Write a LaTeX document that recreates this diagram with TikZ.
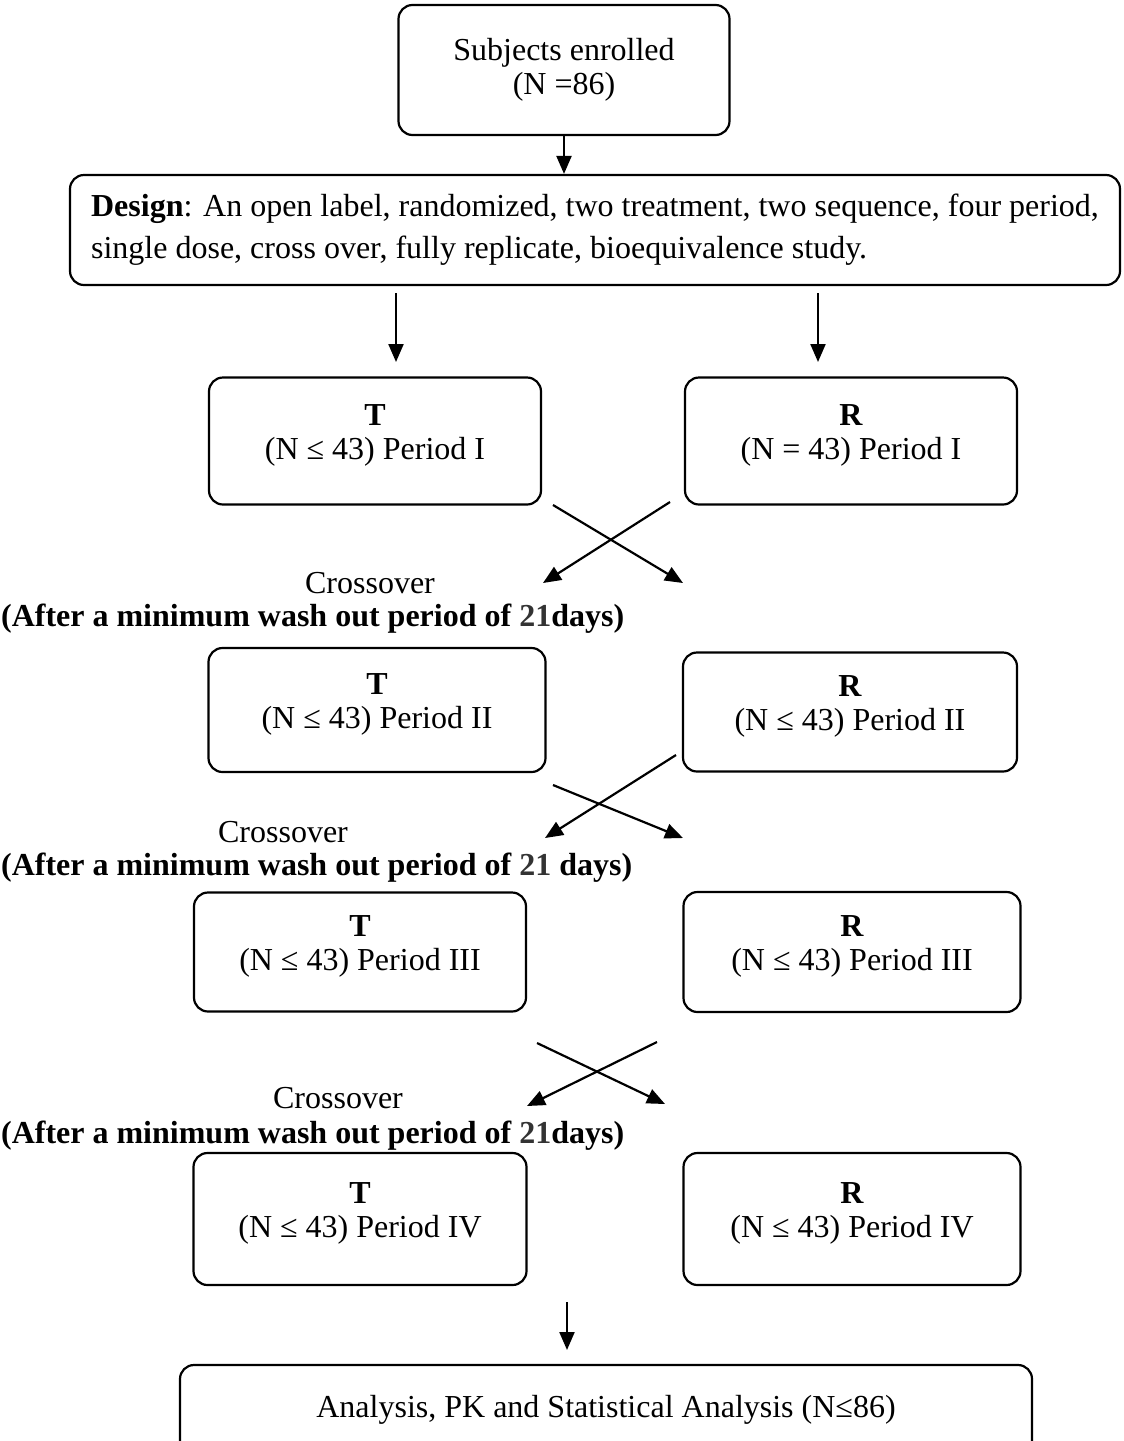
\documentclass[tikz,border=0pt]{standalone}
\usepackage{fontspec}
\setmainfont{Liberation Serif}
\usepackage{tikz}
\usetikzlibrary{arrows,arrows.meta}
\definecolor{cgray}{rgb}{0.2, 0.2, 0.2}

\begin{document}
\begin{tikzpicture}[x=1pt,y=-1pt,-,>={Triangle[length=18pt,width=15pt]},line width=2.2pt,
  main node/.style={draw,rounded corners=14pt,align=center,inner sep=0pt,
    text depth=17pt,font=\fontsize{32}{34}\selectfont},
  text node/.style={inner sep=0pt,font=\fontsize{32}{37}\selectfont}]
  \useasboundingbox (0,0) rectangle (1124,1441);

  \node[main node,minimum width=331pt,minimum height=130pt,text depth=8pt] (enrol) at (564,70)
    {Subjects enrolled\\(N =86)};
  \node[main node,minimum width=1050pt,minimum height=110pt,align=left,text depth=8pt] (design) at (595,230)
    {\textbf{Design}: An open label, randomized, two treatment, two sequence, four period,\\[8pt]
     single dose, cross over, fully replicate, bioequivalence study.};

  \node[main node,minimum width=332pt,minimum height=127pt] (t1) at (375,441)
    {\textbf{T}\\(N ≤ 43) Period I};
  \node[main node,minimum width=332pt,minimum height=127pt] (r1) at (851,441)
    {\textbf{R}\\(N = 43) Period I};
  \node[main node,minimum width=337pt,minimum height=124pt] (t2) at (377,710)
    {\textbf{T}\\(N ≤ 43) Period II};
  \node[main node,minimum width=334pt,minimum height=119pt] (r2) at (850,712)
    {\textbf{R}\\(N ≤ 43) Period II};
  \node[main node,minimum width=332pt,minimum height=119pt] (t3) at (360,952)
    {\textbf{T}\\(N ≤ 43) Period III};
  \node[main node,minimum width=337pt,minimum height=120pt] (r3) at (852,952)
    {\textbf{R}\\(N ≤ 43) Period III};
  \node[main node,minimum width=333pt,minimum height=132pt] (t4) at (360,1219)
    {\textbf{T}\\(N ≤ 43) Period IV};
  \node[main node,minimum width=337pt,minimum height=132pt] (r4) at (852,1219)
    {\textbf{R}\\(N ≤ 43) Period IV};
  \node[main node,minimum width=852pt,minimum height=90pt,text depth=8pt] (analysis) at (606,1410)
    {Analysis, PK and Statistical Analysis (N≤86)};

  % crossover notes
  \node[text node] (cross1) at (370,583) {Crossover};
  \node[text node,anchor=west] (wash1) at (0,619)
    {\textbf{(After a minimum wash out period of \textcolor{cgray}{21}days)}};
  \node[text node] (cross2) at (283,832) {Crossover};
  \node[text node,anchor=west] (wash2) at (0,868)
    {\textbf{(After a minimum wash out period of \textcolor{cgray}{21} days)}};
  \node[text node] (cross3) at (338,1098) {Crossover};
  \node[text node,anchor=west] (wash3) at (0,1136)
    {\textbf{(After a minimum wash out period of \textcolor{cgray}{21}days)}};

  % loose arrow ends
  \coordinate (dl) at (396,293);  \coordinate (dle) at (396,362);
  \coordinate (dr) at (818,293);  \coordinate (dre) at (818,362);
  \coordinate (x1a) at (553,505); \coordinate (x1b) at (683,583);
  \coordinate (x1c) at (670,502); \coordinate (x1d) at (543,583);
  \coordinate (x2a) at (553,785); \coordinate (x2b) at (683,838);
  \coordinate (x2c) at (676,755); \coordinate (x2d) at (545,838);
  \coordinate (x3a) at (537,1043); \coordinate (x3b) at (665,1104);
  \coordinate (x3c) at (657,1042); \coordinate (x3d) at (527,1106);
  \coordinate (fa) at (567,1302); \coordinate (fb) at (567,1350);

  \path[->]
    (enrol) edge (enrol.south |- design.north)
    (dl) edge (dle)
    (dr) edge (dre)
    (x1a) edge (x1b)
    (x1c) edge (x1d)
    (x2a) edge (x2b)
    (x2c) edge (x2d)
    (x3a) edge (x3b)
    (x3c) edge (x3d)
    (fa) edge (fb);
\end{tikzpicture}
\end{document}
